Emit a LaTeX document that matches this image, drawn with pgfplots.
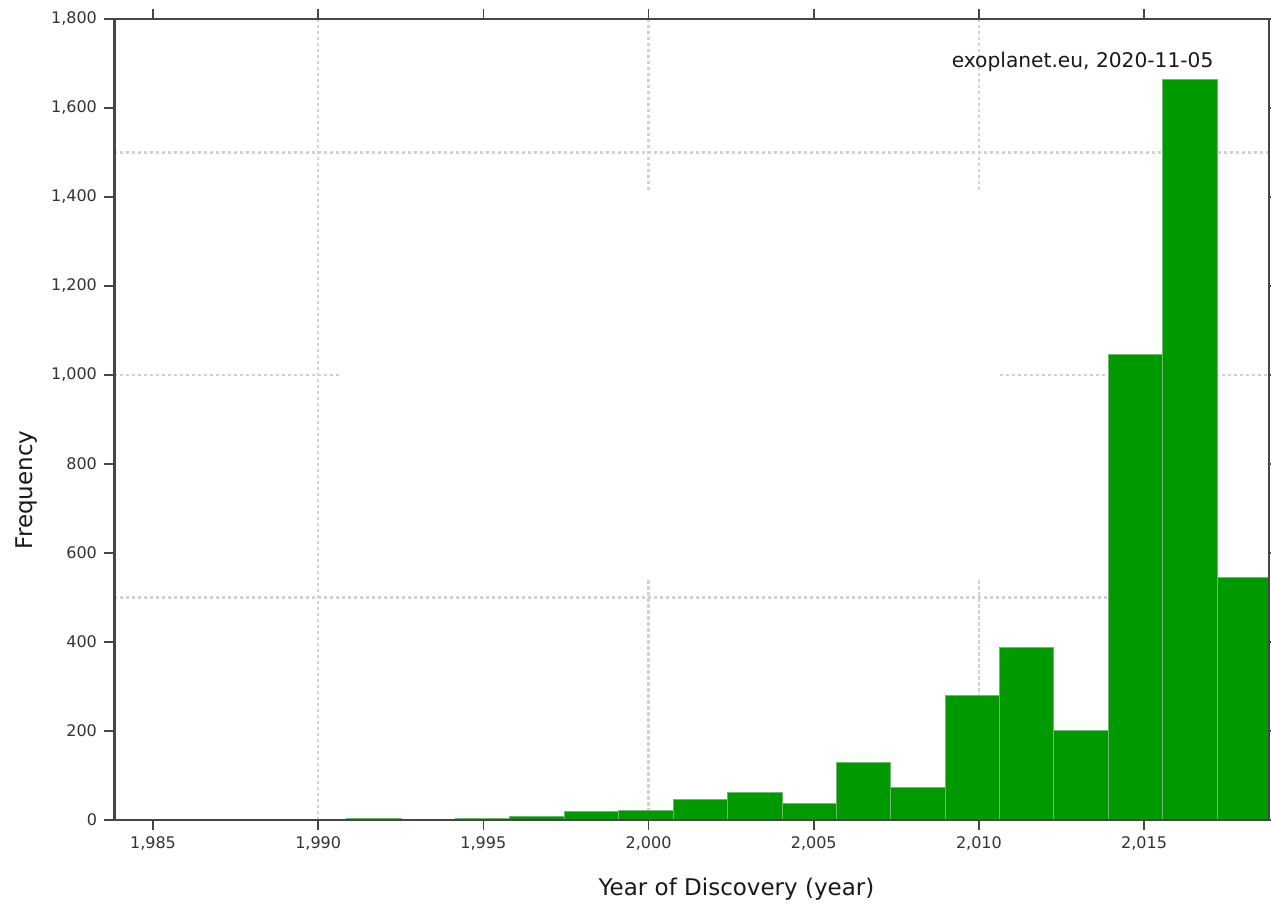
\documentclass[border=0pt]{standalone}
\usepackage{fontspec}
\setmainfont{DejaVu Sans}
\usepackage{pgfplots}
\pgfplotsset{compat=1.18}
\definecolor{bargreen}{RGB}{0,153,0}
\definecolor{baredge}{RGB}{110,185,110}
\definecolor{gridgray}{RGB}{210,210,210}
\definecolor{axisgray}{RGB}{70,70,70}
\tikzset{gridline/.style={gridgray, line width=1.1pt, dash pattern=on 1.7pt off 1.3pt}}
\begin{document}
\begin{tikzpicture}
\begin{axis}[
  scale only axis, width=577.5pt, height=400.5pt,
  xmin=1983.82, xmax=2018.78, ymin=0, ymax=1800,
  xtick={1985,1990,...,2015}, ytick={0,200,...,1800},
  scaled ticks=false,
  minor tick num=0,
  tick align=outside, major tick length=5pt,
  tick style={axisgray, line width=0.8pt},
  axis line style={axisgray, line width=1pt},
  axis on top,
  /pgf/number format/assume math mode=true,
  /pgf/number format/1000 sep={,},
  ticklabel style={font=\fontsize{8}{9}\selectfont, text=black!80},
  xlabel={Year of Discovery (year)}, ylabel={Frequency},
  label style={font=\fontsize{11.5}{13}\selectfont, text=black!90},
  x label style={at={(axis description cs:0.539,-0.086)}, anchor=center},
  y label style={at={(axis description cs:-0.076,0.412)}, anchor=center},
]
% grid (partly interrupted as in the reference)
\draw[gridline] (axis cs:1990,0) -- (axis cs:1990,1800);
\draw[gridline] (axis cs:2000,1800) -- (axis cs:2000,1416);
\draw[gridline] (axis cs:2000,539) -- (axis cs:2000,0);
\draw[gridline] (axis cs:2010,1800) -- (axis cs:2010,1416);
\draw[gridline] (axis cs:2010,539) -- (axis cs:2010,0);
\draw[gridline] (axis cs:1983.82,1500) -- (axis cs:2018.78,1500);
\draw[gridline] (axis cs:1983.82,500) -- (axis cs:2018.78,500);
\draw[gridline] (axis cs:1983.82,1000) -- (axis cs:1990.66,1000);
\draw[gridline] (axis cs:2010.63,1000) -- (axis cs:2018.78,1000);

\addplot[ybar interval, fill=bargreen, draw=baredge, line width=0.5pt] table {
x y
1987.57 2
1989.21 0
1990.86 3
1992.51 1
1994.15 3
1995.80 8
1997.45 19
1999.09 22
2000.74 47
2002.39 61
2004.04 37
2005.68 130
2007.33 74
2008.98 279
2010.62 387
2012.27 202
2013.92 1047
2015.56 1663
2017.21 546
2018.86 546
};

\draw[axisgray, line width=1.6pt] (axis description cs:0,-0.01) -- (axis description cs:0,1);
\node[anchor=east, font=\fontsize{10.1}{12}\selectfont, text=black!90] at (axis description cs:0.958,0.946) {exoplanet.eu, 2020-11-05};
\end{axis}
\pgfresetboundingbox
\path ([shift={(-57pt,-44pt)}]current axis.south west) rectangle ([shift={(1pt,9.5pt)}]current axis.north east);
\end{tikzpicture}
\end{document}
